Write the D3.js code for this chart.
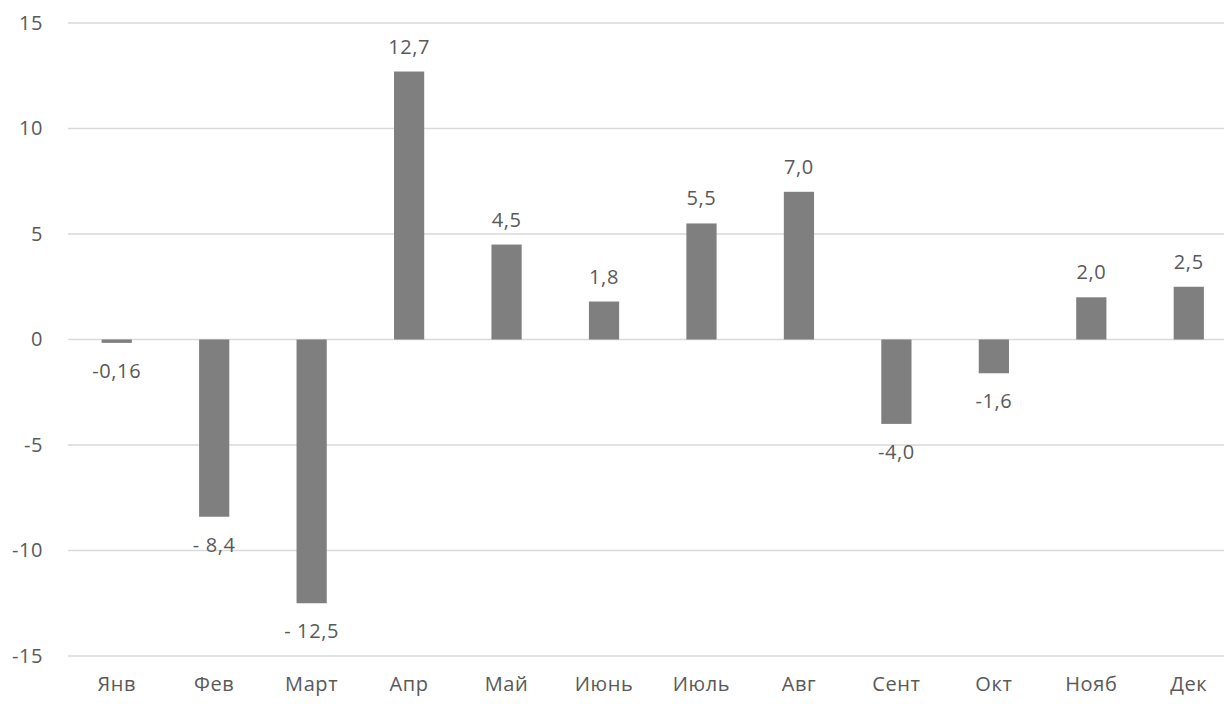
<!DOCTYPE html>
<html>
<head>
<meta charset="utf-8">
<script src="https://cdn.jsdelivr.net/npm/d3@7"></script>
<style>
  body { margin: 0; background: #fff; }
  text { font-family: "Open Sans", sans-serif; fill: #595959; letter-spacing: 0.6px; }
</style>
</head>
<body>
<div id="chart"></div>
<script>
// data
var months = ["Янв", "Фев", "Март", "Апр", "Май", "Июнь", "Июль", "Авг", "Сент", "Окт", "Нояб", "Дек"];
var values = [-0.16, -8.4, -12.5, 12.7, 4.5, 1.8, 5.5, 7.0, -4.0, -1.6, 2.0, 2.5];
var valueLabels = ["-0,16", "- 8,4", "- 12,5", "12,7", "4,5", "1,8", "5,5", "7,0", "-4,0", "-1,6", "2,0", "2,5"];
var yTicks = [-15, -10, -5, 0, 5, 10, 15];

var width = 1224, height = 704;
var fontSize = "20px";

var svg = d3.select("#chart").append("svg")
  .attr("width", width)
  .attr("height", height);

var x = d3.scaleBand()
  .domain(months)
  .range([68, 1237.5])
  .paddingInner(0.69)
  .paddingOuter(0.345);

var y = d3.scaleLinear()
  .domain([-15, 15])
  .range([656, 23]);

// gridlines
svg.append("g")
  .selectAll("line")
  .data(yTicks)
  .enter().append("line")
  .attr("x1", 68)
  .attr("x2", 1240)
  .attr("y1", function(d) { return y(d); })
  .attr("y2", function(d) { return y(d); })
  .attr("stroke", "#d9d9d9")
  .attr("stroke-width", 1.5);

// y axis labels (plain hyphen like the original)
var yAxis = d3.axisLeft(y)
  .tickValues(yTicks)
  .tickFormat(function(d) { return String(d); })
  .tickSize(0)
  .tickPadding(0);
var gy = svg.append("g")
  .attr("transform", "translate(43,0)")
  .call(yAxis);
gy.select(".domain").remove();
gy.selectAll("text")
  .style("font-size", fontSize)
  .attr("fill", "#595959");

// x axis labels
var xAxis = d3.axisBottom(x).tickSize(0).tickPadding(0);
var gx = svg.append("g")
  .attr("transform", "translate(0,677)")
  .call(xAxis);
gx.select(".domain").remove();
gx.selectAll("text")
  .style("font-size", fontSize)
  .attr("fill", "#595959");

// bars
svg.append("g")
  .selectAll("rect")
  .data(values)
  .enter().append("rect")
  .attr("x", function(d, i) { return x(months[i]); })
  .attr("width", x.bandwidth())
  .attr("y", function(d) { return d >= 0 ? y(d) : y(0); })
  .attr("height", function(d) { return Math.abs(y(d) - y(0)); })
  .attr("fill", "#7f7f7f");

// value labels
svg.append("g")
  .selectAll("text")
  .data(values)
  .enter().append("text")
  .attr("x", function(d, i) { return x(months[i]) + x.bandwidth() / 2; })
  .attr("y", function(d) { return d >= 0 ? y(d) - 25 : y(d) + 28; })
  .attr("dy", "0.35em")
  .attr("text-anchor", "middle")
  .style("font-size", fontSize)
  .text(function(d, i) { return valueLabels[i]; });
</script>
</body>
</html>
